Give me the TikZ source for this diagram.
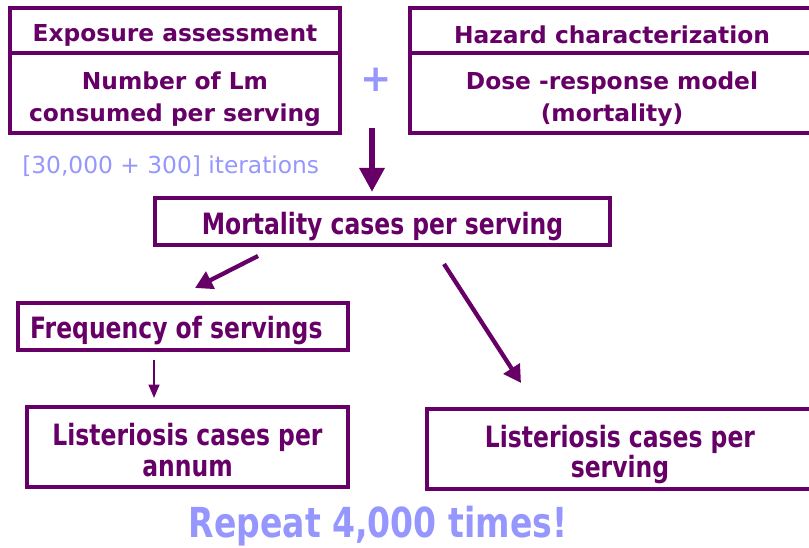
\documentclass[tikz,border=0pt]{standalone}
\usepackage{fontspec}
\setmainfont{DejaVu Sans}
\newfontfamily\narrowfont[FakeStretch=0.8]{DejaVu Sans}
\usetikzlibrary{arrows.meta}

\definecolor{plum}{RGB}{102,0,102}
\definecolor{lilac}{RGB}{150,150,255}

\tikzset{
  textdrop/.style={execute at begin node={\rule{0pt}{#1}}},
  stagebox/.style={draw=plum, line width=2.8pt, text=plum, font=\bfseries\fontsize{17.5}{24}\selectfont, align=center, inner sep=0pt},
  lowbox/.style={stagebox, font=\narrowfont\bfseries\fontsize{22}{23}\selectfont},
  flow/.style={draw=plum, line width=4.5pt, -{Triangle[length=18pt,width=18pt]}},
  sideflow/.style={draw=plum, line width=3.2pt, -{Triangle[length=13pt,width=14pt]}},
  thinflow/.style={draw=plum, line width=1.6pt, -{Triangle[length=10pt,width=8pt]}}
}

\begin{document}
\begin{tikzpicture}[x=0.75pt,y=0.75pt,yscale=-1,xscale=1]
        \useasboundingbox (0,0) rectangle (809,548);

        % Exposure assessment
        \node [stagebox, textdrop=19.5pt, minimum width=330*0.75pt, minimum height=45*0.75pt] (expHead) at (175,30.5) {Exposure assessment};
        \node [stagebox, text height=47pt, text depth=4pt, minimum width=330*0.75pt, minimum height=80*0.75pt] (expBody) at (175,93) {Number of Lm\\consumed per serving};
        % Hazard characterization
        \node [stagebox, textdrop=19.5pt, minimum width=404*0.75pt, minimum height=45*0.75pt] (hazHead) at (612,30.5) {Hazard characterization};
        \node [stagebox, text height=47pt, text depth=4pt, minimum width=404*0.75pt, minimum height=80*0.75pt] (hazBody) at (612,93) {Dose -response model\\(mortality)};

        % Text Node
        \node [text=lilac, font=\bfseries\fontsize{28}{30}\selectfont] (plus) at (376,80) {+};
        % Text Node
        \node [text=lilac, font=\fontsize{17.5}{20}\selectfont, anchor=west, inner sep=0pt] (iter) at (22,166) {[30,000 + 300] iterations};

        % Mortality
        \node [lowbox, textdrop=24pt, minimum width=455*0.75pt, minimum height=47*0.75pt] (mort) at (382.5,221.5) {Mortality cases per serving};
        % Frequency
        \node [lowbox, textdrop=23pt, minimum width=330*0.75pt, minimum height=47*0.75pt] (freq) at (183,326.5) {Frequency of servings\hspace{10pt}};
        % Listeriosis
        \node [lowbox, text height=48.5pt, text depth=5pt, minimum width=321*0.75pt, minimum height=80*0.75pt] (lisAnnum) at (187.5,447) {Listeriosis cases per\\annum};
        \node [lowbox, text height=48pt, text depth=5pt, minimum width=386*0.75pt, minimum height=80*0.75pt] (lisServ) at (620,449) {Listeriosis cases per\\serving};

        % Text Node
        \node [text=lilac, font=\narrowfont\bfseries\fontsize{31}{34}\selectfont] (repeat) at (378,526) {Repeat 4,000 times!};

        % arrows
        \coordinate (a0) at (372,128);
        \coordinate (a1) at (372,192);
        \coordinate (b0) at (258,256);
        \coordinate (b1) at (195,288);
        \coordinate (c0) at (444,264);
        \coordinate (c1) at (521,383);
        \coordinate (d0) at (154,360);
        \coordinate (d1) at (154,398);
        \draw [flow] (a0) -- (a1);
        \draw [sideflow] (b0) -- (b1);
        \draw [sideflow] (c0) -- (c1);
        \draw [thinflow] (d0) -- (d1);
\end{tikzpicture}
\end{document}
